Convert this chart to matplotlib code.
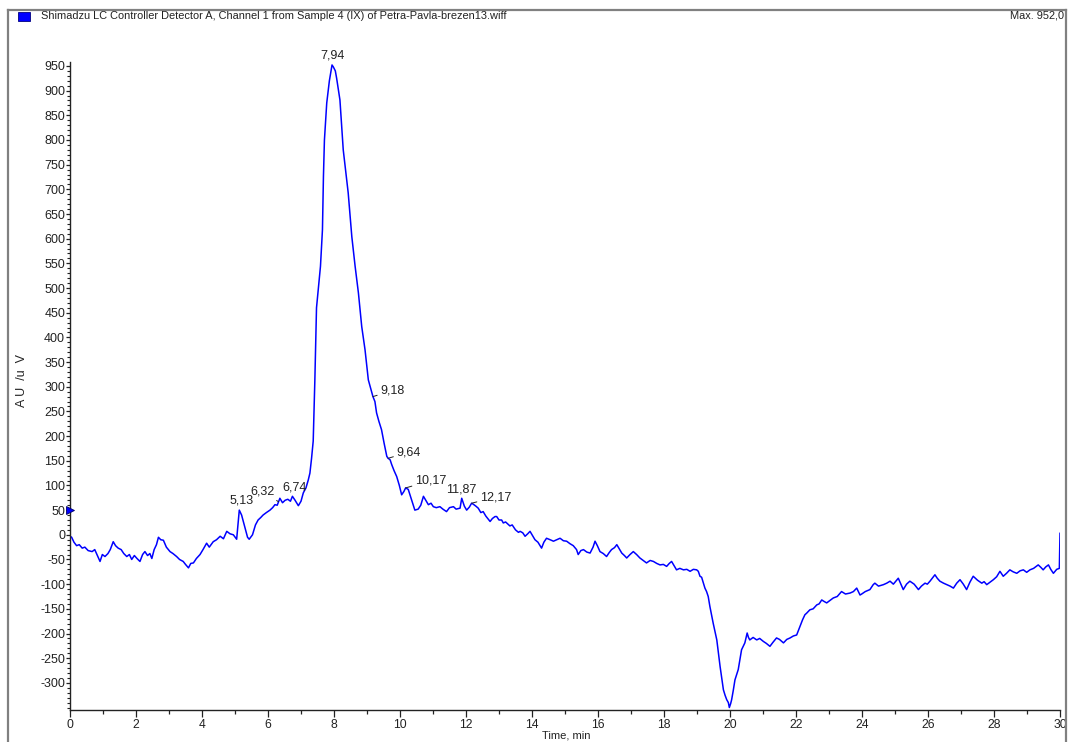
import numpy as np
import matplotlib
matplotlib.use("Agg")
import matplotlib.pyplot as plt
from matplotlib.lines import Line2D
from matplotlib.patches import Rectangle
from matplotlib.ticker import MultipleLocator, FixedLocator

plt.rcParams['font.family'] = ['Liberation Sans', 'DejaVu Sans']
plt.rcParams['axes.unicode_minus'] = False

# Chromatogram trace (time in min, signal in AU/uV)
time_min = [
    0.00, 0.05, 0.12, 0.20, 0.28, 0.37, 0.45, 0.55, 0.67, 0.75, 0.83, 0.91, 0.98,
    1.06, 1.15, 1.22, 1.31, 1.38, 1.46, 1.55, 1.63, 1.72, 1.80, 1.87, 1.95,
    2.03, 2.12, 2.20, 2.27, 2.35, 2.42, 2.48, 2.55, 2.62, 2.68, 2.75, 2.83, 2.92,
    3.03, 3.12, 3.23, 3.32, 3.43, 3.50, 3.59, 3.66, 3.74, 3.83, 3.94,
    4.03, 4.14, 4.22, 4.34, 4.44, 4.55, 4.65, 4.75, 4.85, 4.95,
    5.05, 5.13, 5.20, 5.30, 5.38, 5.43, 5.53, 5.62, 5.70, 5.78, 5.85, 5.95,
    6.06, 6.14, 6.21, 6.28, 6.36, 6.44, 6.52, 6.60, 6.68, 6.74, 6.82, 6.92,
    7.00, 7.07, 7.15, 7.22, 7.27, 7.32, 7.37, 7.40, 7.42, 7.44, 7.47, 7.52,
    7.59, 7.65, 7.68, 7.71, 7.78, 7.86, 7.94, 7.98,
    8.04, 8.08, 8.18, 8.28, 8.43, 8.54, 8.64, 8.74, 8.84, 8.94,
    9.04, 9.12, 9.18, 9.24, 9.29, 9.36, 9.44, 9.52, 9.60, 9.64, 9.70, 9.75,
    9.82, 9.90, 9.98,
    10.05, 10.12, 10.17, 10.25, 10.35, 10.45, 10.55, 10.63, 10.71, 10.78,
    10.86, 10.94,
    11.01, 11.10, 11.21, 11.30, 11.41, 11.50, 11.62, 11.70, 11.82, 11.87, 11.95,
    12.02, 12.10, 12.17, 12.22, 12.30, 12.37, 12.45, 12.52, 12.60, 12.73, 12.80,
    12.88, 12.93,
    13.00, 13.08, 13.13, 13.20, 13.33, 13.40, 13.50, 13.59, 13.64, 13.72, 13.79,
    13.87, 13.94,
    14.02, 14.09, 14.18, 14.29, 14.36, 14.44, 14.55, 14.65, 14.75, 14.85, 14.95,
    15.05, 15.15, 15.25, 15.35, 15.40, 15.48, 15.56, 15.66, 15.76, 15.85, 15.91,
    15.98,
    16.06, 16.16, 16.26, 16.34, 16.41, 16.50, 16.57, 16.64, 16.72, 16.80, 16.87,
    16.97,
    17.07, 17.17, 17.27, 17.37, 17.47, 17.58, 17.68, 17.78, 17.88, 17.98,
    18.08, 18.16, 18.23, 18.30, 18.38, 18.48, 18.59, 18.69, 18.79, 18.89, 18.99,
    19.04, 19.09, 19.14, 19.24, 19.29, 19.34, 19.39, 19.49, 19.60, 19.70, 19.80,
    19.85, 19.90, 19.95, 19.98,
    20.02, 20.05, 20.10, 20.15, 20.25, 20.35, 20.45, 20.52, 20.56, 20.60, 20.70,
    20.81, 20.90,
    21.01, 21.10, 21.21, 21.30, 21.41, 21.50, 21.62, 21.72, 21.82, 21.92,
    22.02, 22.12, 22.20, 22.27, 22.32, 22.42, 22.52, 22.63, 22.70, 22.78, 22.85,
    22.93,
    23.03, 23.13, 23.25, 23.38, 23.50, 23.64, 23.74, 23.84, 23.94, 23.99,
    24.10, 24.24, 24.34, 24.39, 24.50, 24.65, 24.75, 24.85, 24.95,
    25.10, 25.18, 25.25, 25.35, 25.45, 25.58, 25.71, 25.80, 25.91, 25.98,
    26.06, 26.13, 26.21, 26.28, 26.36, 26.47, 26.57, 26.67, 26.77, 26.87, 26.97,
    27.07, 27.17, 27.27, 27.37, 27.50, 27.63, 27.70, 27.78, 27.88, 27.98,
    28.08, 28.18, 28.28, 28.38, 28.48, 28.58, 28.69, 28.79, 28.89, 28.99,
    29.09, 29.20, 29.34, 29.42, 29.49, 29.57, 29.65, 29.72, 29.80, 29.90, 29.98,
    30.00,
]
signal = [
    -3, -5, -15, -22, -20, -27, -25, -32, -34, -30, -42, -54, -40,
    -44, -38, -30, -14, -22, -27, -30, -38, -44, -40, -50, -42,
    -48, -54, -40, -34, -42, -38, -48, -30, -20, -5, -10, -11, -25,
    -34, -38, -44, -50, -54, -60, -67, -58, -57, -48, -40,
    -30, -17, -25, -14, -10, -3, -8, 7, 2, 0,
    -9, 50, 40, 15, -5, -9, 0, 20, 30, 35, 40, 45,
    50, 55, 61, 60, 74, 65, 70, 72, 68, 78, 70, 59,
    68, 85, 95, 111, 125, 155, 190, 260, 314, 375, 460, 496,
    544, 618, 726, 800, 875, 920, 952, 948,
    940, 925, 881, 780, 693, 604, 544, 490, 422, 375,
    314, 295, 280, 270, 247, 230, 213, 185, 159, 155, 152, 142,
    130, 118, 100,
    81, 88, 95, 92, 71, 50, 52, 60, 78, 70,
    61, 64,
    57, 55, 57, 52, 47, 55, 57, 52, 54, 74, 58,
    50, 56, 64, 62, 58, 54, 45, 47, 38, 27, 33,
    37, 37,
    30, 30, 24, 26, 18, 20, 10, 5, 7, 4, -3,
    2, 7,
    -2, -10, -15, -27, -15, -7, -10, -13, -10, -7, -12,
    -13, -18, -22, -30, -40, -32, -30, -35, -37, -25, -13,
    -22,
    -34, -38, -44, -36, -30, -26, -20, -28, -37, -42, -47,
    -40,
    -34, -40, -47, -52, -57, -52, -54, -58, -61, -60,
    -64, -58, -54, -62, -71, -68, -71, -70, -74, -70, -71,
    -74, -84, -86, -108, -115, -125, -145, -179, -213, -267, -314,
    -325, -334, -340, -350,
    -342, -334, -315, -294, -273, -233, -219, -199, -208, -213, -208,
    -213, -210,
    -216, -220, -226, -218, -209, -212, -219, -212, -209, -205,
    -203, -186, -172, -162, -159, -152, -150, -142, -140, -132, -135,
    -138,
    -133, -128, -125, -115, -120, -118, -115, -108, -122, -120,
    -115, -111, -101, -98, -104, -101, -98, -94, -100,
    -88, -100, -111, -100, -94, -100, -111, -104, -98, -100,
    -94, -88, -81, -88, -94, -98, -101, -104, -108, -98, -91,
    -100, -111, -96, -84, -92, -98, -95, -101, -96, -91,
    -85, -74, -84, -78, -71, -75, -78, -73, -71, -76,
    -71, -68, -61, -66, -71, -65, -61, -70, -78, -70, -68,
    3,
]

# Integrated peaks: retention time labels
peak_times = [5.13, 6.32, 6.74, 7.94, 9.18, 9.64, 10.17, 11.87, 12.17]
peak_labels = ["5,13", "6,32", "6,74", "7,94", "9,18", "9,64", "10,17", "11,87", "12,17"]

title_text = "Shimadzu LC Controller Detector A, Channel 1 from Sample 4 (IX) of Petra-Pavla-brezen13.wiff"
max_text = "Max. 952,0"

W, H = 1069, 742
fig = plt.figure(figsize=(W / 100, H / 100), dpi=100)
fig.patch.set_facecolor("white")


def fx(px):
    return px / W


def fy(py):
    return 1 - py / H


# Plot area
ax_left, ax_right, ax_top, ax_bottom = 70, 1060, 62, 710
ax = fig.add_axes([fx(ax_left), fy(ax_bottom), fx(ax_right - ax_left),
                   (ax_bottom - ax_top) / H])
ax.set_xlim(0, 30)
ax.set_ylim(-355, 958)

ax.plot(time_min, signal, color="#0000ff", linewidth=1.1, solid_joinstyle="round")

for s in ("top", "right"):
    ax.spines[s].set_visible(False)
for s in ("left", "bottom"):
    ax.spines[s].set_linewidth(1.0)
    ax.spines[s].set_color("#222222")

ax.xaxis.set_major_locator(MultipleLocator(2))
ax.xaxis.set_minor_locator(MultipleLocator(1))
ax.yaxis.set_major_locator(FixedLocator(np.arange(-300, 951, 50)))
ax.yaxis.set_minor_locator(FixedLocator(np.arange(-350, 951, 10)))
ax.tick_params(axis="x", which="major", length=5, width=0.9, pad=1.5,
               labelsize=8.7, colors="#222222")
ax.tick_params(axis="x", which="minor", length=3, width=0.9, colors="#222222")
ax.tick_params(axis="y", which="major", length=3, width=0.9, pad=0.5,
               labelsize=9, colors="#222222")
ax.tick_params(axis="y", which="minor", length=2, width=0.8, colors="#222222")

# Baseline marker on the signal axis
ax.plot([0], [50], marker=">", markersize=6, color="#0000ff",
        markeredgecolor="#000066", markeredgewidth=0.6, clip_on=False, zorder=5)

# Peak labels: (dx, dy) pixel offset, alignment, leader line
label_style = {
    "5,13": (2, 4, "center", "bottom", False),
    "6,32": (-4, 4, "right", "bottom", True),
    "6,74": (2, 3, "center", "bottom", False),
    "7,94": (1, 3, "center", "bottom", False),
    "9,18": (7, 6, "left", "center", True),
    "9,64": (8, 6, "left", "center", True),
    "10,17": (9, 7, "left", "center", True),
    "11,87": (0, 3, "center", "bottom", False),
    "12,17": (8, 6, "left", "center", True),
}
for t, lab in zip(peak_times, peak_labels):
    v = float(np.interp(t, time_min, signal))
    dx, dy, ha, va, leader = label_style[lab]
    arrow = dict(arrowstyle="-", color="#222222", lw=0.7, shrinkA=0, shrinkB=0) if leader else None
    ax.annotate(lab, xy=(t, v), xytext=(dx, dy), textcoords="offset pixels",
                ha=ha, va=va, fontsize=9, color="#222222", arrowprops=arrow)

# Axis titles
fig.text(fx(566), fy(741), "Time, min", ha="center", va="bottom", fontsize=8,
         color="#222222")
fig.text(fx(22), fy(380), "A U  /u  V", ha="center", va="center", rotation=90,
         fontsize=9, color="#222222")

# Outer frame
frame_kw = dict(color="#808080", linewidth=1.6, transform=fig.transFigure)
fig.add_artist(Line2D([fx(8), fx(8)], [fy(10), fy(H)], **frame_kw))
fig.add_artist(Line2D([fx(8), fx(1066)], [fy(10), fy(10)], **frame_kw))
fig.add_artist(Line2D([fx(1066), fx(1066)], [fy(10), fy(H)], **frame_kw))

# Series legend and maximum
fig.add_artist(Rectangle((fx(18), fy(21)), fx(12), 9 / H, transform=fig.transFigure,
                         facecolor="#0000ff", edgecolor="#000080", linewidth=0.6))
fig.text(fx(41), fy(16), title_text, ha="left", va="center", fontsize=7.9,
         color="#222222")
fig.text(fx(1064), fy(16), max_text, ha="right", va="center", fontsize=7.9,
         color="#222222")

fig.savefig("out.png", dpi=100, facecolor="white")
